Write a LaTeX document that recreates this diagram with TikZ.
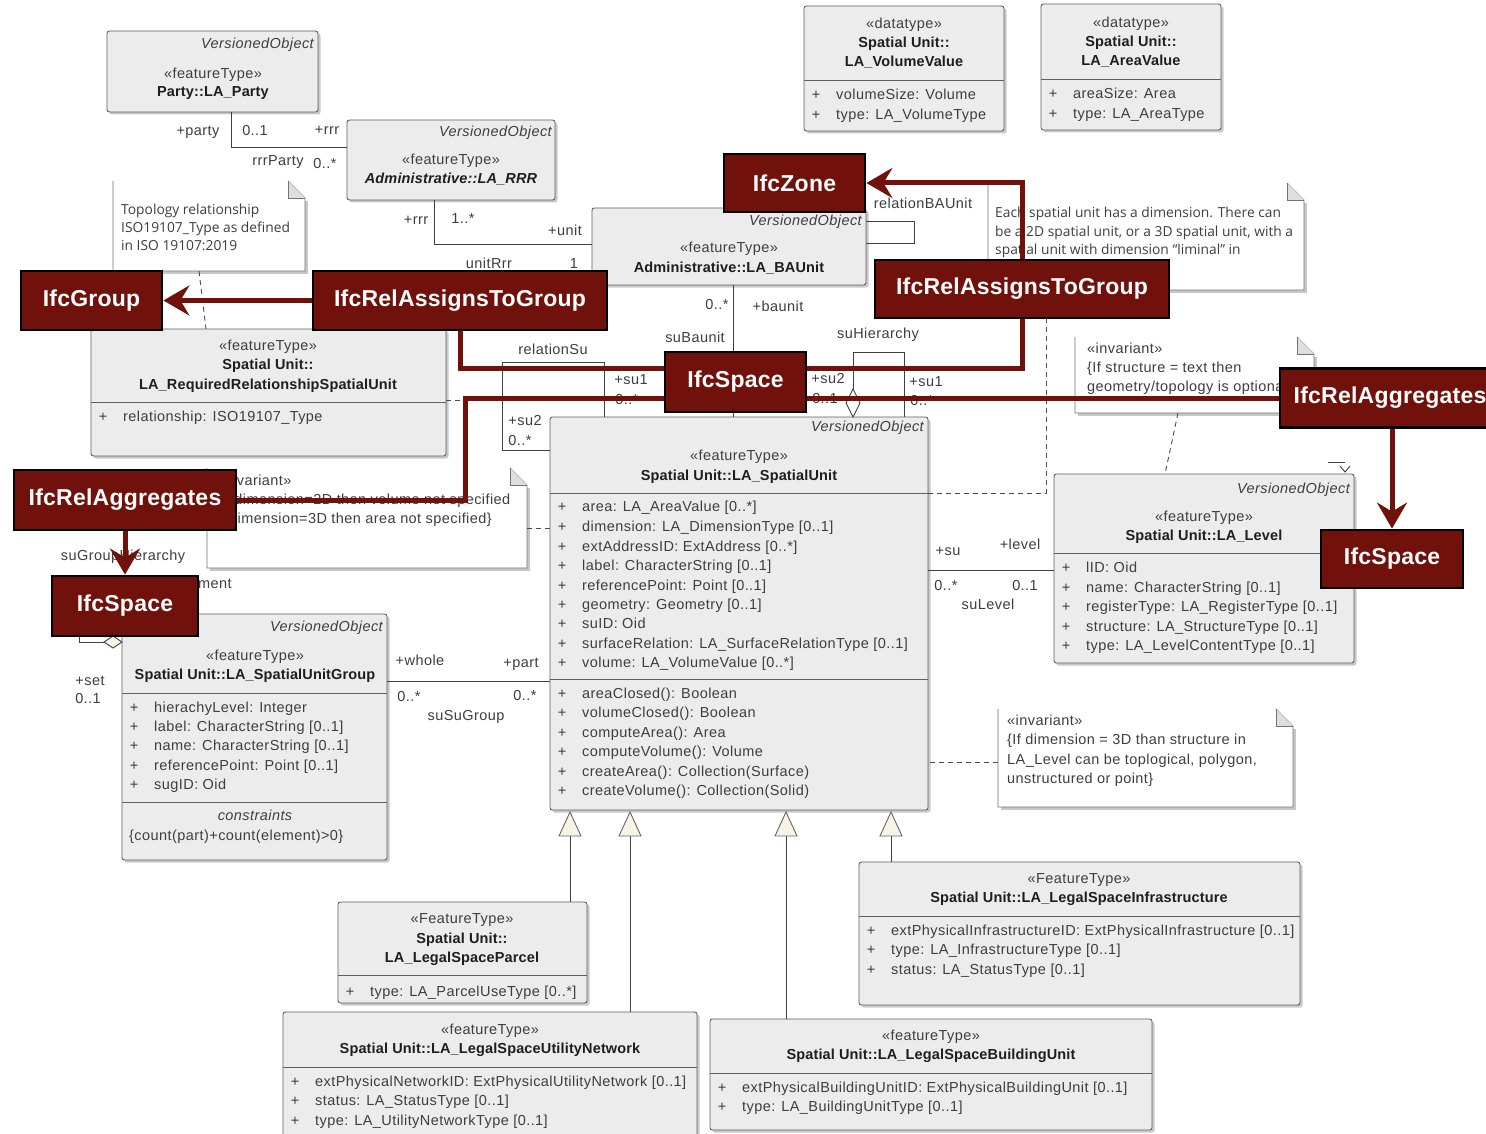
\documentclass[tikz,border=0pt]{standalone}
\usepackage{fontspec}
\setmainfont{Liberation Sans}[LetterSpace=3]
\newfontfamily\umlboldfont{Liberation Sans}[LetterSpace=1]
\newfontfamily\notefont{Open Sans}
\usetikzlibrary{calc,arrows.meta,shadows}

\definecolor{clsfill}{RGB}{236,236,236}
\definecolor{clsline}{RGB}{96,96,96}
\definecolor{txt}{RGB}{62,62,62}
\definecolor{txtdark}{RGB}{30,30,30}
\definecolor{ifcred}{RGB}{112,17,11}
\definecolor{genfill}{RGB}{247,243,230}
\definecolor{foldfill}{RGB}{222,222,222}

\pgfdeclarelayer{uml}
\pgfdeclarelayer{links}
\pgfsetlayers{uml,links,main}

\newcommand{\umlfs}{\fontsize{14.5}{17}\selectfont}
\newcommand{\umlofs}{\notefont\fontsize{13.8}{16}\selectfont}
\newcommand{\ifcfs}{\fontsize{23}{26}\selectfont}

% class box: name, x1, y1, x2, y2
\newcommand{\umlbox}[5]{\node[cls,minimum width={(#4-#2)*1pt},minimum height={(#5-#3)*1pt}] (#1) at (#2,#3) {};}
% compartment separator: x1, x2, y
\newcommand{\umlsep}[3]{\draw[sepl] (#1,#3) -- (#2,#3);}
% attribute row: class left x, y, text
\newcommand{\umlattr}[3]{\node[lbl] at (#1+12,#2) {+}; \node[lbl,anchor=west] at (#1+32,#2) {#3};}
% note with folded corner: x1, y1, x2, y2
\newcommand{\umlnote}[4]{%
  \fill[black!22] (#1+3,#4) rectangle (#3+3,#4+3);
  \fill[black!22] (#3,#2+20) rectangle (#3+3,#4+3);
  \fill[white] (#1,#2) -- (#3-17,#2) -- (#3,#2+17) -- (#3,#4) -- (#1,#4) -- cycle;
  \draw[notel] (#3-17,#2) -- (#3,#2+17) -- (#3,#4) -- (#1,#4) -- (#1,#2);
  \draw[notel,fill=foldfill] (#3-17,#2) -- (#3-17,#2+17) -- (#3,#2+17);}

\begin{document}
\begin{tikzpicture}[x=1pt,y=-1pt,
  lbl/.style={inner sep=0pt, text height=10pt, text depth=3pt, font=\umlfs, text=txt},
  nm/.style={lbl, font=\umlboldfont\umlfs\bfseries, text=txtdark},
  vo/.style={lbl, anchor=east, font=\umlfs\itshape},
  nt/.style={lbl, anchor=west},
  on/.style={lbl, anchor=west, font=\umlofs},
  cls/.style={draw=clsline, fill=clsfill, line width=0.9pt, rounded corners=2.5pt,
    anchor=north west, inner sep=0pt, outer sep=0pt,
    drop shadow={shadow xshift=2.5pt, shadow yshift=-2.5pt, opacity=0.3, fill=black!70}},
  sepl/.style={draw=clsline, line width=0.9pt},
  assoc/.style={draw=black!75, line width=0.9pt},
  dep/.style={draw=black!70, line width=0.9pt, dash pattern=on 5pt off 4pt},
  notel/.style={draw=black!55, line width=0.9pt},
  gen/.style={draw=black!60, line width=0.9pt, fill=genfill},
  ifc/.style={draw=black, line width=2.8pt, fill=ifcred, text=white, inner sep=0pt,
    font=\umlboldfont\ifcfs\bfseries},
  redl/.style={draw=ifcred, line width=5pt},
  redtip/.style={-{Stealth[length=26pt,width=30pt,inset=9pt]}},
]
\useasboundingbox (0,0) rectangle (1486,1134);
\clip (0,0) rectangle (1486,1134);

\begin{pgfonlayer}{uml}
\fill[white] (0,0) rectangle (1486,1134);

% ---------------- classes ----------------
\umlbox{party}{107}{31}{318}{112}
\node[vo] at (314,45) {VersionedObject};
\node[lbl] at (213,75) {«featureType»};
\node[nm] at (213,93) {Party::LA\_Party};

\umlbox{rrr}{347}{120}{555}{200}
\node[vo] at (552,133) {VersionedObject};
\node[lbl] at (451,161) {«featureType»};
\node[nm, font=\umlboldfont\umlfs\bfseries\itshape] at (451,180) {Administrative::LA\_RRR};

\umlbox{baunit}{592}{208}{866}{285}
\node[vo] at (862,222) {VersionedObject};
\node[lbl] at (729,249) {«featureType»};
\node[nm] at (729,269) {Administrative::LA\_BAUnit};

\umlbox{volval}{804}{6}{1004}{131}
\node[lbl] at (904,25) {«datatype»};
\node[nm] at (904,44) {Spatial Unit::};
\node[nm] at (904,63) {LA\_VolumeValue};
\umlsep{804}{1004}{80}
\umlattr{804}{96}{volumeSize: Volume}
\umlattr{804}{116}{type: LA\_VolumeType}

\umlbox{areaval}{1041}{4}{1221}{130}
\node[lbl] at (1131,24) {«datatype»};
\node[nm] at (1131,43) {Spatial Unit::};
\node[nm] at (1131,62) {LA\_AreaValue};
\umlsep{1041}{1221}{79}
\umlattr{1041}{95}{areaSize: Area}
\umlattr{1041}{115}{type: LA\_AreaType}

\umlbox{reqrel}{91}{329}{446}{456}
\node[lbl] at (268,347) {«featureType»};
\node[nm] at (268,366) {Spatial Unit::};
\node[nm] at (268,386) {LA\_RequiredRelationshipSpatialUnit};
\umlsep{91}{446}{402}
\umlattr{91}{418}{relationship: ISO19107\_Type}

\umlbox{su}{550}{417}{928}{810}
\node[vo] at (924,428) {VersionedObject};
\node[lbl] at (739,457) {«featureType»};
\node[nm] at (739,477) {Spatial Unit::LA\_SpatialUnit};
\umlsep{550}{928}{493}
\umlattr{550}{508}{area: LA\_AreaValue [0..*]}
\umlattr{550}{528}{dimension: LA\_DimensionType [0..1]}
\umlattr{550}{548}{extAddressID: ExtAddress [0..*]}
\umlattr{550}{567}{label: CharacterString [0..1]}
\umlattr{550}{587}{referencePoint: Point [0..1]}
\umlattr{550}{606}{geometry: Geometry [0..1]}
\umlattr{550}{625}{suID: Oid}
\umlattr{550}{645}{surfaceRelation: LA\_SurfaceRelationType [0..1]}
\umlattr{550}{664}{volume: LA\_VolumeValue [0..*]}
\umlsep{550}{928}{679}
\umlattr{550}{695}{areaClosed(): Boolean}
\umlattr{550}{714}{volumeClosed(): Boolean}
\umlattr{550}{734}{computeArea(): Area}
\umlattr{550}{753}{computeVolume(): Volume}
\umlattr{550}{773}{createArea(): Collection(Surface)}
\umlattr{550}{792}{createVolume(): Collection(Solid)}

\umlbox{level}{1054}{474}{1354}{663}
\node[vo] at (1350,490) {VersionedObject};
\node[lbl] at (1204,518) {«featureType»};
\node[nm] at (1204,537) {Spatial Unit::LA\_Level};
\umlsep{1054}{1354}{553}
\umlattr{1054}{569}{lID: Oid}
\umlattr{1054}{589}{name: CharacterString [0..1]}
\umlattr{1054}{608}{registerType: LA\_RegisterType [0..1]}
\umlattr{1054}{628}{structure: LA\_StructureType [0..1]}
\umlattr{1054}{647}{type: LA\_LevelContentType [0..1]}

\umlbox{sug}{122}{614}{387}{860}
\node[vo] at (383,628) {VersionedObject};
\node[lbl] at (255,657) {«featureType»};
\node[nm] at (255,676) {Spatial Unit::LA\_SpatialUnitGroup};
\umlsep{122}{387}{693}
\umlattr{122}{709}{hierachyLevel: Integer}
\umlattr{122}{728}{label: CharacterString [0..1]}
\umlattr{122}{747}{name: CharacterString [0..1]}
\umlattr{122}{767}{referencePoint: Point [0..1]}
\umlattr{122}{786}{sugID: Oid}
\umlsep{122}{387}{802}
\node[lbl, font=\umlfs\itshape] at (255,817) {constraints};
\node[lbl, anchor=west] at (129,837) {\{count(part)+count(element)>0\}};

\umlbox{parcel}{338}{902}{587}{1003}
\node[lbl] at (462,920) {«FeatureType»};
\node[nm] at (462,940) {Spatial Unit::};
\node[nm] at (462,959) {LA\_LegalSpaceParcel};
\umlsep{338}{587}{975}
\umlattr{338}{993}{type: LA\_ParcelUseType [0..*]}

\umlbox{utility}{283}{1012}{697}{1150}
\node[lbl] at (490,1031) {«featureType»};
\node[nm] at (490,1050) {Spatial Unit::LA\_LegalSpaceUtilityNetwork};
\umlsep{283}{697}{1067}
\umlattr{283}{1083}{extPhysicalNetworkID: ExtPhysicalUtilityNetwork [0..1]}
\umlattr{283}{1102}{status: LA\_StatusType [0..1]}
\umlattr{283}{1122}{type: LA\_UtilityNetworkType [0..1]}

\umlbox{building}{710}{1019}{1152}{1130}
\node[lbl] at (931,1037) {«featureType»};
\node[nm] at (931,1056) {Spatial Unit::LA\_LegalSpaceBuildingUnit};
\umlsep{710}{1152}{1073}
\umlattr{710}{1089}{extPhysicalBuildingUnitID: ExtPhysicalBuildingUnit [0..1]}
\umlattr{710}{1108}{type: LA\_BuildingUnitType [0..1]}

\umlbox{infra}{859}{862}{1300}{1005}
\node[lbl] at (1079,880) {«FeatureType»};
\node[nm] at (1079,899) {Spatial Unit::LA\_LegalSpaceInfrastructure};
\umlsep{859}{1300}{916}
\umlattr{859}{932}{extPhysicalInfrastructureID: ExtPhysicalInfrastructure [0..1]}
\umlattr{859}{951}{type: LA\_InfrastructureType [0..1]}
\umlattr{859}{971}{status: LA\_StatusType [0..1]}

% ---------------- notes ----------------
\umlnote{113}{181}{305}{271}
\node[on] (n1) at (121,211) {Topology relationship};
\node[on] at (121,229) {ISO19107\_Type as defined};
\node[on] at (121,247) {in ISO 19107:2019};
\coordinate (n1foot) at (199,271);

\umlnote{988}{183}{1304}{290}
\node[on] (n2) at (995,214) {Each spatial unit has a dimension. There can};
\node[on] at (995,233) {be a 2D spatial unit, or a 3D spatial unit, with a};
\node[on] at (995,251) {spatial unit with dimension “liminal” in};
\coordinate (n2foot) at (1046,290);

\umlnote{1075}{337}{1314}{413}
\node[nt] (n3) at (1087,350) {«invariant»};
\node[nt] at (1087,369) {\{If structure = text then};
\node[nt] at (1087,388) {geometry/topology is optional\}};
\coordinate (n3foot) at (1178,413);

\umlnote{207}{468}{527}{568}
\node[nt] (n4) at (216,482) {«invariant»};
\node[nt] at (216,501) {\{If dimension=2D then volume not specified};
\node[nt] at (216,520) {If dimension=3D then area not specified\}};
\coordinate (n4east) at (527,528);

\umlnote{998}{709}{1293}{807}
\node[nt] (n5) at (1007,722) {«invariant»};
\node[nt] at (1007,741) {\{If dimension = 3D than structure in};
\node[nt] at (1007,761) {LA\_Level can be toplogical, polygon,};
\node[nt] at (1007,780) {unstructured or point\}};
\coordinate (n5west) at (998,762);

% ---------------- associations ----------------
\draw[assoc] ($(party.south west)+(124,0)$) |- ($(rrr.north west)+(0,27)$);
\draw[assoc] ($(rrr.south west)+(87,0)$) |- ($(baunit.north west)+(0,36)$);
\draw[assoc] ($(baunit.north east)+(0,13)$) -- ++(48,0) -- ++(0,22) -- ($(baunit.north east)+(0,35)$);
\draw[assoc] ($(baunit.south west)+(141,0)$) -- ($(su.north west)+(183,0)$);
% relationSu
\draw[assoc] ($(su.north west)+(0,33)$) -| ($(su.north west)+(-48,-55)$) -| ($(su.north west)+(54,0)$);
% suHierarchy
\draw[assoc] ($(su.north west)+(303,-28)$) -- ($(su.north west)+(303,-65)$) -| ($(su.north west)+(354,0)$);
\draw[assoc, fill=white] ($(su.north west)+(303,0)$) -- ++(7,-14) -- ++(-7,-14) -- ++(-7,14) -- cycle;
% suLevel
\draw[assoc] ($(su.north east)+(0,153)$) -- ($(level.north west)+(0,96)$);
\draw[assoc] ($(level.north east)+(-26,-12)$) -- ++(17,0);
\draw[assoc] ($(level.north east)+(-14,-8)$) -- ++(5,6) -- ++(5,-6);
% suSuGroup
\draw[assoc] ($(sug.north east)+(0,67)$) -- ($(su.north west)+(0,264)$);
% suGroupHierarchy
\draw[assoc] ($(sug.north west)+(58,0)$) -- ++(0,-16) -| (79,642) -- ($(sug.north west)+(-18,28)$);
\draw[assoc, fill=genfill] ($(sug.north west)+(0,28)$) -- ++(-9,-6) -- ++(-9,6) -- ++(9,6) -- cycle;

% generalizations
\draw[assoc] ($(su.south west)+(20,26)$) -- ($(parcel.north west)+(232,0)$);
\draw[assoc] ($(su.south west)+(80,26)$) -- ($(utility.north west)+(347,0)$);
\draw[assoc] ($(su.south west)+(236,26)$) -- ($(building.north west)+(76,0)$);
\draw[assoc] ($(su.south west)+(341,26)$) -- ($(infra.north west)+(32,0)$);
\foreach \gx in {20,80,236,341}
  \draw[gen] ($(su.south west)+(\gx,2)$) -- ++(11,24) -- ++(-22,0) -- cycle;

% dependencies to notes and association class
\draw[dep] ($(su.north east)+(0,76)$) -| (n2foot);
\draw[dep] (n4east) -- ($(su.north west)+(0,111)$);
\draw[dep] ($(reqrel.north east)+(0,71)$) -- ($(su.north west)+(-48,-17)$);
\draw[dep] (n5west) -- ($(su.north east)+(0,345)$);
\draw[dep] (n3foot) -- ($(level.north west)+(111,0)$);
\draw[dep] (n1foot) -- ($(reqrel.north west)+(115,0)$);

% ---------------- association labels ----------------
\node[lbl] at (198,132) {+party};
\node[lbl] at (255,132) {0..1};
\node[lbl] at (327,131) {+rrr};
\node[lbl] at (278,162) {rrrParty};
\node[lbl] at (325,165) {0..*};
\node[lbl] at (416,221) {+rrr};
\node[lbl] at (463,220) {1..*};
\node[lbl] at (565,232) {+unit};
\node[lbl] at (489,265) {unitRrr};
\node[lbl] at (574,265) {1};
\node[lbl] at (923,205) {relationBAUnit};
\node[lbl] at (717,306) {0..*};
\node[lbl] at (778,308) {+baunit};
\node[lbl] at (695,339) {suBaunit};
\node[lbl] at (553,351) {relationSu};
\node[lbl] at (631,381) {+su1};
\node[lbl] at (627,401) {0..*};
\node[lbl] at (525,422) {+su2};
\node[lbl] at (520,442) {0..*};
\node[lbl] at (878,335) {suHierarchy};
\node[lbl] at (828,380) {+su2};
\node[lbl] at (825,400) {0..1};
\node[lbl] at (926,383) {+su1};
\node[lbl] at (922,402) {0..*};
\node[lbl] at (948,552) {+su};
\node[lbl] at (1020,546) {+level};
\node[lbl] at (946,587) {0..*};
\node[lbl] at (1025,587) {0..1};
\node[lbl] at (988,606) {suLevel};
\node[lbl] at (420,662) {+whole};
\node[lbl] at (521,664) {+part};
\node[lbl] at (409,698) {0..*};
\node[lbl] at (525,697) {0..*};
\node[lbl] at (466,717) {suSuGroup};
\node[lbl] at (123,557) {suGroupHierarchy};
\node[lbl] at (200,585) {+element};
\node[lbl] at (90,682) {+set};
\node[lbl] at (88,700) {0..1};
\end{pgfonlayer}

% ---------------- IFC mapping ----------------
\node[ifc, minimum width=141pt, minimum height=58pt] (zone) at (794.5,183) {IfcZone};
\node[ifc, minimum width=141pt, minimum height=59pt] (ifcgroup) at (91.5,300.5) {IfcGroup};
\node[ifc, minimum width=294pt, minimum height=59pt] (ratgA) at (460,300.5) {IfcRelAssignsToGroup};
\node[ifc, minimum width=294pt, minimum height=58pt] (ratgB) at (1022,289) {IfcRelAssignsToGroup};
\node[ifc, minimum width=141pt, minimum height=60pt] (spC) at (735.5,382) {IfcSpace};
\node[ifc, minimum width=222pt, minimum height=60pt] (raL) at (125,500) {IfcRelAggregates};
\node[ifc, minimum width=220pt, minimum height=59pt] (raR) at (1390,398) {IfcRelAggregates};
\node[ifc, minimum width=142pt, minimum height=58pt] (spR) at (1392,559) {IfcSpace};
\node[ifc, minimum width=146pt, minimum height=60pt] (spL) at (125,606) {IfcSpace};
\coordinate (aggbend) at (465,398);

\begin{pgfonlayer}{links}
\draw[redl, redtip] (ratgA.west) -- (ifcgroup.east);
\draw[redl] (ratgA.south) -- ++(0,37) -| (ratgB.south);
\draw[redl, redtip] (ratgB.north) |- (zone.east);
\draw[redl] (raL.east) -| (aggbend) -- (raR.west);
\draw[redl, redtip] (raL.south) -- (spL.north);
\draw[redl, redtip] (raR.south -| spR.north) -- (spR.north);
\end{pgfonlayer}
\end{tikzpicture}
\end{document}
